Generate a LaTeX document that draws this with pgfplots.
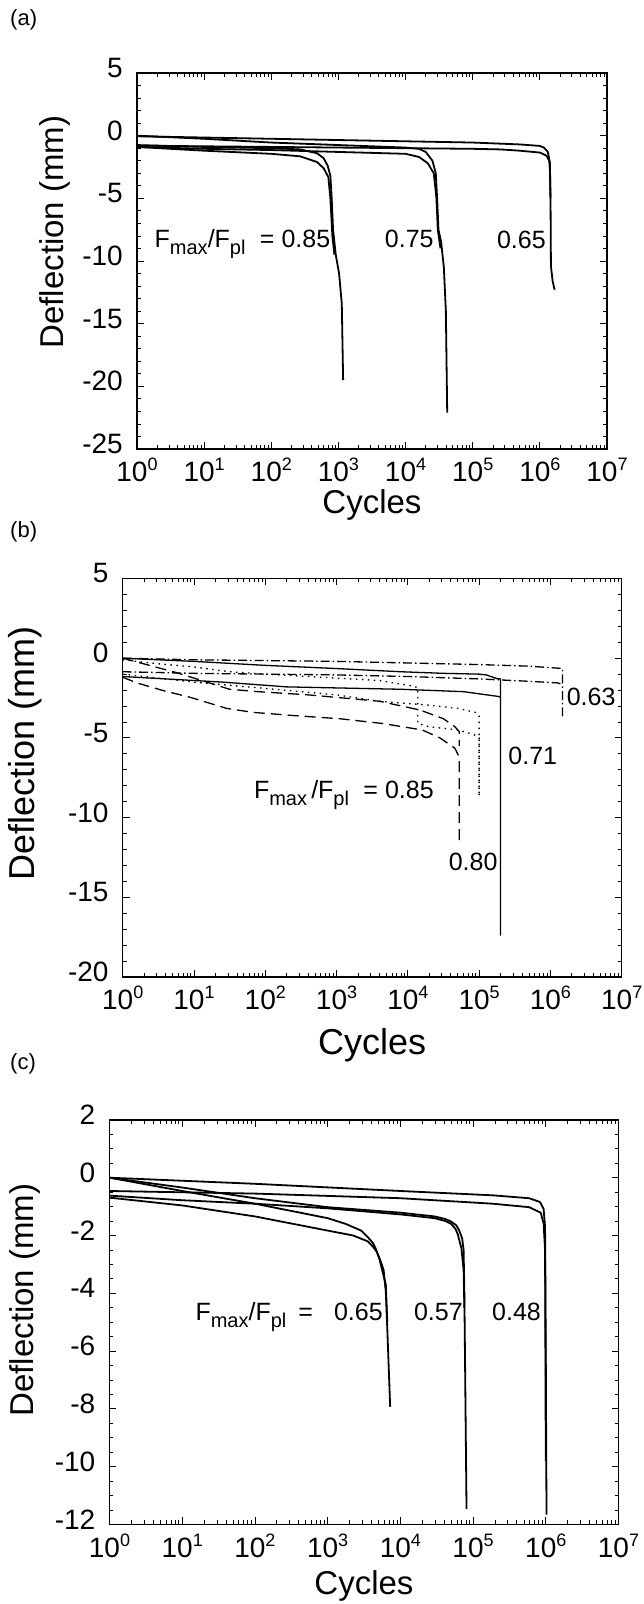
\documentclass[border=0pt]{standalone}
\usepackage{fontspec}
\setmainfont{Liberation Sans}
\usepackage{pgfplots}
\pgfplotsset{compat=1.18}

% tick label 10^n in text font
\newcommand\ex[1]{10\raisebox{11bp}{\fontsize{18bp}{18bp}\selectfont #1}}
% subscript for F_max, F_pl
\newcommand\sub[1]{\raisebox{-7bp}{\fontsize{20bp}{20bp}\selectfont #1}}
\newcommand\annfont{\fontsize{25bp}{27bp}\selectfont}

\pgfplotsset{
  mypanel/.style={
    scale only axis,
    xmin=1, xmax=1e7,
    xtick={1e0,1e1,1e2,1e3,1e4,1e5,1e6,1e7},
    xticklabels={\ex{0},\ex{1},\ex{2},\ex{3},\ex{4},\ex{5},\ex{6},\ex{7}},
    minor xtick={2,3,4,5,6,7,8,9,20,30,40,50,60,70,80,90,200,300,400,500,600,700,800,900,
      2e3,3e3,4e3,5e3,6e3,7e3,8e3,9e3,2e4,3e4,4e4,5e4,6e4,7e4,8e4,9e4,
      2e5,3e5,4e5,5e5,6e5,7e5,8e5,9e5,2e6,3e6,4e6,5e6,6e6,7e6,8e6,9e6},
    tick align=inside,
    xtick pos=both, ytick pos=both,
    major tick length=7bp, minor tick length=4bp,
    every tick/.style={black, line width=0.8bp},
    axis line style={black, line width=1.3bp},
    tick label style={font=\fontsize{28bp}{30bp}\selectfont, inner sep=0pt},
    xticklabel style={anchor=north, yshift=-9bp},
    yticklabel style={anchor=east, xshift=-14bp, yshift=5bp},
    label style={font=\fontsize{33bp}{36bp}\selectfont, inner sep=0pt},
    xlabel={Cycles}, ylabel={Deflection (mm)},
    xlabel style={at={(axis description cs:0.5,0)}, anchor=north},
    ylabel style={anchor=center},
  },
  crv/.style={black, line width=1.8bp, line join=round},
  thin crv/.style={black, line width=1.3bp, line join=round},
  dd/.style={thin crv, dash pattern=on 9bp off 3bp on 1.5bp off 3bp},
  dt/.style={thin crv, dash pattern=on 1.5bp off 4.5bp},
  ds/.style={thin crv, dash pattern=on 11bp off 6bp},
}

\begin{document}
\begin{tikzpicture}
\path[use as bounding box] (0,0) rectangle (644bp,1604bp);

\node[anchor=west, inner sep=0pt, font=\fontsize{22bp}{24bp}\selectfont] at (10bp,1584bp) {(a)};
\node[anchor=west, inner sep=0pt, font=\fontsize{22bp}{24bp}\selectfont] at (10bp,1072bp) {(b)};
\node[anchor=west, inner sep=0pt, font=\fontsize{22bp}{24bp}\selectfont] at (10bp,540bp) {(c)};

% ---------------- (a)
\begin{axis}[xmode=log, mypanel, at={(137bp,1155bp)}, anchor=south west,
  width=470bp, height=376bp,
  ymin=-25, ymax=5,
  ytick={-25,-20,-15,-10,-5,0,5}, yticklabels={-25,-20,-15,-10,-5,0,5},
  minor y tick num=4,
  xlabel style={yshift=-40bp},
  ylabel style={at={(axis description cs:-0.1755,0.577)}}]
% 0.65
\addplot[crv] coordinates {(1,-0.05)(10,-0.15)(100,-0.25)(1e3,-0.35)(1e4,-0.45)(1e5,-0.55)
  (5.012e5,-0.7)(1e6,-0.82)(1.148e6,-0.95)(1.318e6,-1.3)(1.413e6,-2.2)(1.445e6,-6)
  (1.462e6,-10.4)(1.549e6,-11.6)(1.660e6,-12.3)};
\addplot[crv] coordinates {(1,-0.8)(10,-0.85)(100,-0.9)(1e3,-0.95)(1e4,-1.0)(1e5,-1.05)
  (2.63e5,-1.1)(5.012e5,-1.2)(1e6,-1.35)(1.259e6,-1.6)(1.380e6,-2.0)(1.413e6,-2.8)(1.445e6,-5)};
% 0.75
\addplot[crv] coordinates {(1,0)(10,-0.25)(100,-0.55)(1e3,-0.75)(1e4,-0.95)(1.585e4,-1.05)
  (1.995e4,-1.3)(2.512e4,-2.0)(2.818e4,-3.0)(2.951e4,-5)(3.09e4,-7.5)(3.388e4,-8.5)
  (3.715e4,-10.5)(3.981e4,-14)(4.169e4,-22.1)};
\addplot[crv] coordinates {(1,-0.9)(10,-1.05)(100,-1.15)(1e3,-1.3)(1e4,-1.45)(1.585e4,-1.7)
  (2.138e4,-2.2)(2.63e4,-3.0)(2.884e4,-5)(3.02e4,-7.5)(3.311e4,-9)};
% 0.85
\addplot[crv] coordinates {(1,-0.75)(10,-0.9)(100,-1.0)(269.2,-1.1)(478.6,-1.4)(602.6,-1.8)
  (691.8,-2.4)(758.6,-3.2)(794.3,-5)(831.8,-7.5)(912,-9.5)(1023,-11)(1122,-13.4)(1175,-19.5)};
\addplot[crv] coordinates {(1,-0.9)(10,-1.2)(100,-1.45)(269.2,-1.65)(478.6,-2.1)(602.6,-2.6)
  (707.9,-3.3)(758.6,-5)(812.8,-8)(871,-9.5)};
\node[anchor=base east, inner sep=0pt, font=\annfont] at (axis cs:759,-8.96)
  {F\sub{max}/F\sub{pl}\hspace{0.3em} = 0.85};
\node[anchor=base east, inner sep=0pt, font=\annfont] at (axis cs:2.63e4,-8.96) {0.75};
\node[anchor=base east, inner sep=0pt, font=\annfont] at (axis cs:1.23e6,-9.0) {0.65};
\end{axis}

% ---------------- (b)
\begin{axis}[xmode=log, mypanel, at={(122.7bp,627bp)}, anchor=south west,
  width=499bp, height=398.5bp,
  ymin=-20, ymax=5,
  ytick={-20,-15,-10,-5,0,5}, yticklabels={-20,-15,-10,-5,0,5},
  minor y tick num=4,
  label style={font=\fontsize{36bp}{38bp}\selectfont},
  xlabel style={yshift=-51bp},
  ylabel style={at={(axis description cs:-0.1958,0.56)}}]
% 0.63 dash-dot
\addplot[dd] coordinates {(1,0)(10,-0.1)(100,-0.15)(1e3,-0.2)(1e4,-0.3)(1e5,-0.4)
  (5.012e5,-0.5)(1.413e6,-0.64)(1.479e6,-0.68)(1.479e6,-3.8)};
\addplot[dd] coordinates {(1,-0.85)(10,-0.95)(100,-1.0)(1e3,-1.05)(1e4,-1.15)(1e5,-1.3)
  (5.012e5,-1.45)(1.259e6,-1.55)(1.479e6,-1.65)};
% 0.71 solid
\addplot[thin crv] coordinates {(1,0)(10,-0.2)(100,-0.45)(1e3,-0.65)(7943,-0.85)(3.162e4,-0.95)
  (1e5,-1.0)(1.259e5,-1.05)(1.778e5,-1.28)(1.995e5,-1.3)(1.995e5,-17.4)};
\addplot[thin crv] coordinates {(1,-1.15)(25.1,-1.5)(199.5,-1.8)(7943,-1.95)(6.026e4,-2.1)
  (1.862e5,-2.4)(1.995e5,-2.45)};
% 0.80 dotted
\addplot[dt] coordinates {(1,-0.1)(3.162,-0.35)(10,-0.55)(31.62,-0.85)(100,-1.0)(1e3,-1.25)
  (3981,-1.4)(1.175e4,-1.75)(1.380e4,-1.85)(1.380e4,-4.1)(1.995e4,-4.3)(5.012e4,-4.5)
  (8.511e4,-4.8)(1e5,-5.0)(1e5,-8.7)};
\addplot[dt] coordinates {(1,-1.0)(10,-1.5)(100,-1.9)(1e3,-2.3)(3981,-2.7)(1.995e4,-2.95)
  (5.012e4,-3.15)(8.913e4,-3.4)(1e5,-3.6)(1e5,-8.7)};
% 0.85 dashed
\addplot[ds] coordinates {(1,0)(1.778,-0.3)(5.623,-0.9)(31.62,-1.95)(79.43,-2.1)(398.1,-2.3)
  (1259,-2.5)(3981,-2.7)(1.479e4,-3.25)(3.162e4,-3.8)(4.571e4,-4.3)(5.248e4,-4.6)(5.248e4,-5.5)};
\addplot[ds] coordinates {(1,-1.2)(1.66,-1.58)(3.89,-2.06)(8.318,-2.42)(28.84,-3.15)(67.61,-3.4)
  (251.2,-3.6)(1122,-3.8)(4467,-4.1)(1.585e4,-4.5)(2.818e4,-5.0)(4.571e4,-5.65)(5.248e4,-6.2)
  (5.248e4,-11.5)};
\node[anchor=base east, inner sep=0pt, font=\annfont] at (axis cs:2.32e4,-8.79)
  {F\sub{max}\,/F\sub{pl}\hspace{0.3em} = 0.85};
\node[anchor=base east, inner sep=0pt, font=\annfont] at (axis cs:1.82e5,-13.29) {0.80};
\node[anchor=base west, inner sep=0pt, font=\annfont] at (axis cs:2.56e5,-6.66) {0.71};
\node[anchor=base west, inner sep=0pt, font=\annfont] at (axis cs:1.687e6,-2.94) {0.63};
\end{axis}

% ---------------- (c)
\begin{axis}[xmode=log, mypanel, at={(109.5bp,79.5bp)}, anchor=south west,
  width=509bp, height=404.6bp,
  ymin=-12, ymax=2,
  ytick={-12,-10,-8,-6,-4,-2,0,2}, yticklabels={-12,-10,-8,-6,-4,-2,0,2},
  minor y tick num=3,
  xlabel style={yshift=-46bp},
  ylabel style={at={(axis description cs:-0.166,0.555)}}]
% 0.48
\addplot[crv] coordinates {(1,0)(97.7,-0.21)(1e4,-0.46)(1.862e5,-0.61)(5.888e5,-0.71)
  (8.318e5,-0.84)(9.333e5,-1.08)(9.772e5,-1.7)(1e6,-6)(1.023e6,-11.66)};
\addplot[crv] coordinates {(1,-0.46)(100,-0.55)(1e4,-0.71)(1.862e5,-0.9)(5.888e5,-1.02)
  (8.511e5,-1.21)(9.333e5,-1.58)(9.772e5,-2.5)(1e6,-9.8)};
% 0.57
\addplot[crv] coordinates {(1,0)(10,-0.34)(100,-0.71)(1e3,-1.02)(1e4,-1.21)(2.951e4,-1.34)
  (4.169e4,-1.43)(5.012e4,-1.52)(5.888e4,-1.65)(6.457e4,-1.83)(7.079e4,-2.1)(7.413e4,-2.5)
  (7.586e4,-3.95)(8.128e4,-11.47)};
\addplot[crv] coordinates {(1,-0.62)(10,-0.78)(100,-0.9)(1e3,-1.06)(1e4,-1.27)(2.951e4,-1.4)
  (4.169e4,-1.5)(5.012e4,-1.6)(5.754e4,-1.78)(6.166e4,-1.96)(6.918e4,-2.45)(7.413e4,-3.2)
  (7.586e4,-4.5)};
% 0.65
\addplot[crv] coordinates {(1,0)(10,-0.46)(100,-0.9)(1e3,-1.4)(1778,-1.6)(2884,-1.83)(3548,-2.05)
  (4169,-2.25)(4571,-2.45)(5129,-2.8)(5623,-3.2)(6310,-3.7)(6607,-5.0)};
\addplot[crv] coordinates {(1,-0.69)(10,-0.96)(100,-1.34)(1e3,-1.83)(2239,-2.0)(3548,-2.2)
  (4169,-2.38)(4786,-2.58)(5370,-2.9)(5888,-3.2)(6310,-3.95)(6607,-5.2)(7244,-7.93)};
\node[anchor=base east, inner sep=0pt, font=\annfont] at (axis cs:631,-4.94)
  {F\sub{max}/F\sub{pl}\hspace{0.2em} =};
\node[anchor=base east, inner sep=0pt, font=\annfont] at (axis cs:5754,-4.94) {0.65};
\node[anchor=base east, inner sep=0pt, font=\annfont] at (axis cs:7.24e4,-4.94) {0.57};
\node[anchor=base east, inner sep=0pt, font=\annfont] at (axis cs:8.61e5,-4.94) {0.48};
\end{axis}
\end{tikzpicture}
\end{document}
